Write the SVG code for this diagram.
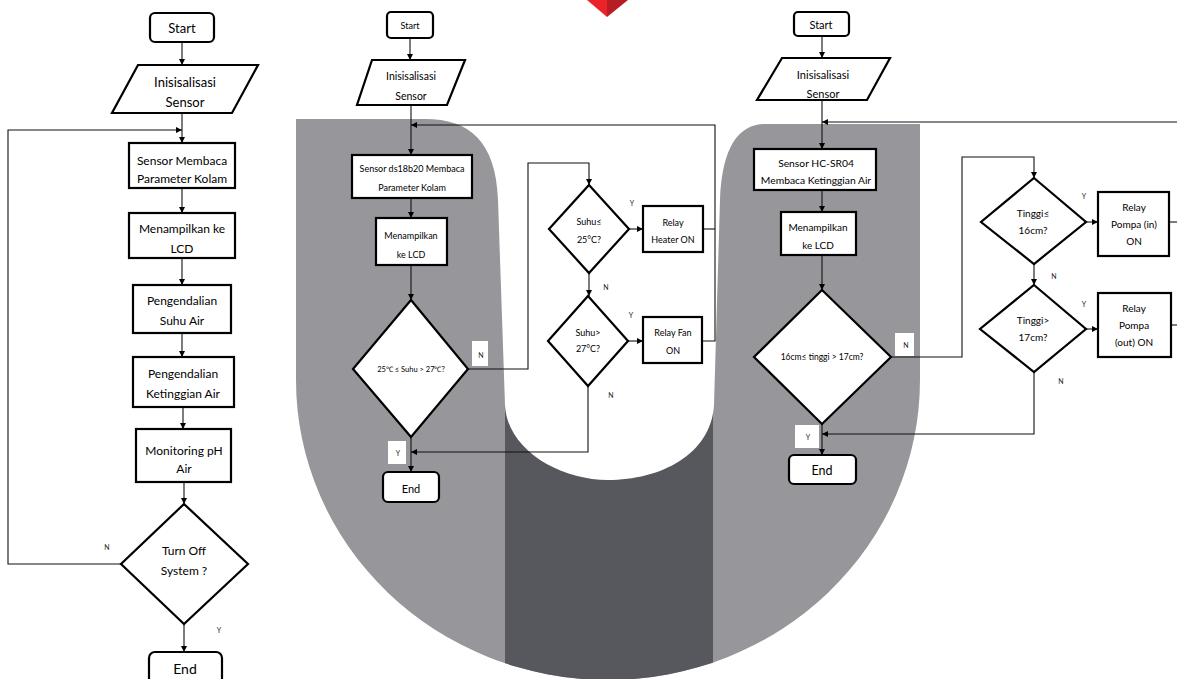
<svg xmlns="http://www.w3.org/2000/svg" width="1177" height="679" viewBox="0 0 1177 679">
<defs>
<style>
.bg{fill:#97979b}
.dk{fill:#57585d}
.wh{fill:#fff}
.box{fill:#fff;stroke:#000;stroke-width:2.2}
.conn{fill:none;stroke:#111;stroke-width:1.1}
.t{font-family:Lato,"Liberation Sans",sans-serif;text-anchor:middle;dominant-baseline:central;fill:#000}
.l{font-size:12px}
.p{font-size:13px}
.e{font-size:14px}
.m{font-size:9px}
.r{font-size:10.3px}
.s{font-size:7.5px}
.lab{font-family:Lato,"Liberation Sans",sans-serif;font-size:7px;fill:#222;text-anchor:middle;dominant-baseline:central}
</style>
<marker id="ah" viewBox="0 0 8 8" refX="8" refY="4" markerWidth="6" markerHeight="6" markerUnits="userSpaceOnUse" orient="auto"><path d="M0,0 L8,4 L0,8 z" fill="#000"/></marker>
<clipPath id="uclip"><path d="M296,119 H720 V124 H920 V380 A312,300 0 0 1 296,380 Z"/></clipPath>
</defs>

<g id="background">
<path class="bg" d="M296,119 H720 V124 H920 V380 A312,300 0 0 1 296,380 Z"/>
<rect class="dk" x="505" y="380" width="208" height="310" clip-path="url(#uclip)"/>
<path class="wh" d="M425,105 V119 C470,119 496,142 498,200 L505,405 C507,450 560,480 608,480 C660,480 711,455 714,405 L720,200 C722,145 740,124 765,124 V105 Z"/>
<polygon points="587,0 607,0 607,17" fill="#ec2229"/>
<polygon points="607,0 628,0 607,17" fill="#b71d24"/>
</g>

<g id="connectors">
<line class="conn" x1="182" y1="42" x2="182" y2="65" marker-end="url(#ah)"/>
<line class="conn" x1="182" y1="113" x2="182" y2="143" marker-end="url(#ah)"/>
<path class="conn" d="M121,564 H8 V130 H182" marker-end="url(#ah)"/>
<line class="conn" x1="182" y1="188" x2="182" y2="213" marker-end="url(#ah)"/>
<line class="conn" x1="182" y1="258" x2="182" y2="285" marker-end="url(#ah)"/>
<line class="conn" x1="182" y1="333" x2="182" y2="357" marker-end="url(#ah)"/>
<line class="conn" x1="183" y1="407" x2="183" y2="429" marker-end="url(#ah)"/>
<line class="conn" x1="184" y1="482" x2="184" y2="504" marker-end="url(#ah)"/>
<line class="conn" x1="184" y1="624" x2="184" y2="652" marker-end="url(#ah)"/>

<line class="conn" x1="410" y1="38" x2="410" y2="60" marker-end="url(#ah)"/>
<line class="conn" x1="411" y1="105" x2="411" y2="155" marker-end="url(#ah)"/>
<path class="conn" d="M702,341 H715 V125 H411" marker-end="url(#ah)"/>
<line class="conn" x1="703" y1="229" x2="715" y2="229"/>
<line class="conn" x1="411" y1="198" x2="411" y2="218" marker-end="url(#ah)"/>
<line class="conn" x1="411" y1="265" x2="411" y2="300" marker-end="url(#ah)"/>
<path class="conn" d="M468,369 H528 V163 H589 V185" marker-end="url(#ah)"/>
<line class="conn" x1="629" y1="229" x2="643" y2="229" marker-end="url(#ah)"/>
<line class="conn" x1="589" y1="273" x2="589" y2="296" marker-end="url(#ah)"/>
<line class="conn" x1="628" y1="341" x2="643" y2="341" marker-end="url(#ah)"/>
<path class="conn" d="M588,386 V452 H411" marker-end="url(#ah)"/>
<line class="conn" x1="411" y1="437" x2="411" y2="472" marker-end="url(#ah)"/>

<line class="conn" x1="822" y1="36" x2="822" y2="58" marker-end="url(#ah)"/>
<line class="conn" x1="822" y1="100" x2="822" y2="149" marker-end="url(#ah)"/>
<path class="conn" d="M1177,122 H822" marker-end="url(#ah)"/>
<line class="conn" x1="822" y1="190" x2="822" y2="212" marker-end="url(#ah)"/>
<line class="conn" x1="822" y1="255" x2="822" y2="290" marker-end="url(#ah)"/>
<path class="conn" d="M891,357 H962 V157 H1034 V178" marker-end="url(#ah)"/>
<line class="conn" x1="822" y1="424" x2="822" y2="455" marker-end="url(#ah)"/>
<line class="conn" x1="1086" y1="222" x2="1098" y2="222" marker-end="url(#ah)"/>
<line class="conn" x1="1034" y1="264" x2="1034" y2="285" marker-end="url(#ah)"/>
<line class="conn" x1="1086" y1="329" x2="1098" y2="329" marker-end="url(#ah)"/>
<line class="conn" x1="1169" y1="222" x2="1177" y2="222"/>
<line class="conn" x1="1171" y1="325" x2="1177" y2="325"/>
<path class="conn" d="M1034,372 V434 H822" marker-end="url(#ah)"/>
</g>

<g id="labels">
<text class="lab" x="107" y="547">N</text>
<text class="lab" x="219" y="630">Y</text>
<rect class="wh" x="472" y="341" width="16" height="25"/>
<text class="lab" x="481" y="355">N</text>
<rect class="wh" x="388" y="441" width="18" height="23"/>
<text class="lab" x="398" y="453">Y</text>
<text class="lab" x="632" y="203">Y</text>
<text class="lab" x="606" y="287">N</text>
<text class="lab" x="631" y="315">Y</text>
<text class="lab" x="611" y="395">N</text>
<rect class="wh" x="895" y="333" width="19" height="23"/>
<text class="lab" x="906" y="345">N</text>
<rect class="wh" x="795" y="425" width="24" height="23"/>
<text class="lab" x="808" y="437">Y</text>
<text class="lab" x="1084" y="196">Y</text>
<text class="lab" x="1054" y="276">N</text>
<text class="lab" x="1084" y="304">Y</text>
<text class="lab" x="1061" y="381">N</text>
</g>

<g id="left-start"><rect class="box" x="150" y="13" width="64" height="29" rx="5"/><text class="t p" x="182" y="28">Start</text></g>
<g id="left-init"><polygon class="box" points="138,65 258,65 232,113 112,113"/><text class="t p" x="185" y="82">Inisisalisasi</text><text class="t p" x="185" y="102">Sensor</text></g>
<g id="left-read"><rect class="box" x="129" y="143" width="106" height="45"/><text class="t l" x="182" y="160">Sensor Membaca</text><text class="t l" x="182" y="178">Parameter Kolam</text></g>
<g id="left-lcd"><rect class="box" x="129" y="213" width="106" height="45"/><text class="t l" x="182" y="228">Menampilkan ke</text><text class="t l" x="182" y="248">LCD</text></g>
<g id="left-suhu"><rect class="box" x="133" y="285" width="98" height="48"/><text class="t l" x="182" y="300">Pengendalian</text><text class="t l" x="182" y="320">Suhu Air</text></g>
<g id="left-tinggi"><rect class="box" x="133" y="357" width="101" height="50"/><text class="t l" x="183" y="373">Pengendalian</text><text class="t l" x="183" y="393">Ketinggian Air</text></g>
<g id="left-ph"><rect class="box" x="136" y="429" width="95" height="53"/><text class="t l" x="184" y="450">Monitoring pH</text><text class="t l" x="184" y="468">Air</text></g>
<g id="left-off"><polygon class="box" points="184,504 248,564 184,624 121,564"/><text class="t l" x="184" y="550">Turn Off</text><text class="t l" x="184" y="570">System ?</text></g>
<g id="left-end"><rect class="box" x="149" y="652" width="73" height="36" rx="6"/><text class="t e" x="185" y="668">End</text></g>

<g id="mid-start"><rect class="box" x="387" y="12" width="46" height="26" rx="4"/><text class="t m" x="410" y="25">Start</text></g>
<g id="mid-init"><polygon class="box" points="372,60 465,60 447,105 357,105"/><text class="t" style="font-size:10.5px" x="411" y="76">Inisisalisasi</text><text class="t" style="font-size:10.5px" x="411" y="96">Sensor</text></g>
<g id="mid-read"><rect class="box" x="352" y="155" width="120" height="43"/><text class="t m" x="412" y="168">Sensor ds18b20 Membaca</text><text class="t m" x="412" y="187">Parameter Kolam</text></g>
<g id="mid-lcd"><rect class="box" x="376" y="218" width="71" height="47"/><text class="t m" x="411" y="235">Menampilkan</text><text class="t m" x="411" y="254">ke LCD</text></g>
<g id="mid-dec"><polygon class="box" points="411,300 468,369 411,437 353,369"/><text class="t s" x="411" y="369">25℃ ≤ Suhu &gt; 27℃?</text></g>
<g id="mid-end"><rect class="box" x="383" y="472" width="56" height="30" rx="5"/><text class="t" style="font-size:11px" x="411" y="488">End</text></g>
<g id="mid-dec1"><polygon class="box" points="589,185 629,229 589,273 549,229"/><text class="t m" x="589" y="221">Suhu≤</text><text class="t m" x="589" y="239">25°C?</text></g>
<g id="mid-heater"><rect class="box" x="643" y="206" width="60" height="46"/><text class="t m" x="673" y="222">Relay</text><text class="t m" x="673" y="239">Heater ON</text></g>
<g id="mid-dec2"><polygon class="box" points="588,296 628,341 588,386 548,341"/><text class="t m" x="588" y="332">Suhu&gt;</text><text class="t m" x="588" y="348">27°C?</text></g>
<g id="mid-fan"><rect class="box" x="643" y="317" width="59" height="46"/><text class="t m" x="673" y="332">Relay Fan</text><text class="t m" x="673" y="350">ON</text></g>

<g id="right-start"><rect class="box" x="794" y="12" width="55" height="24" rx="4"/><text class="t" style="font-size:11px" x="821" y="24">Start</text></g>
<g id="right-init"><polygon class="box" points="782,58 890,58 867,100 757,100"/><text class="t" style="font-size:11px" x="823" y="74">Inisisalisasi</text><text class="t" style="font-size:11px" x="823" y="93">Sensor</text></g>
<g id="right-read"><rect class="box" x="754" y="149" width="122" height="41"/><text class="t r" x="816" y="163">Sensor HC-SR04</text><text class="t r" x="816" y="180">Membaca Ketinggian Air</text></g>
<g id="right-lcd"><rect class="box" x="781" y="212" width="75" height="43"/><text class="t" style="font-size:10px" x="818" y="227">Menampilkan</text><text class="t" style="font-size:10px" x="818" y="245">ke LCD</text></g>
<g id="right-dec"><polygon class="box" points="822,290 891,357 822,424 754,357"/><text class="t" style="font-size:8.5px" x="822" y="357">16cm≤ tinggi &gt; 17cm?</text></g>
<g id="right-end"><rect class="box" x="789" y="455" width="67" height="29" rx="5"/><text class="t" style="font-size:12.5px" x="822" y="470">End</text></g>
<g id="right-dec1"><polygon class="box" points="1034,178 1086,222 1034,264 981,222"/><text class="t" style="font-size:10px" x="1033" y="213">Tinggi≤</text><text class="t" style="font-size:10px" x="1033" y="230">16cm?</text></g>
<g id="right-pin"><rect class="box" x="1098" y="192" width="71" height="64"/><text class="t" style="font-size:10px" x="1134" y="207">Relay</text><text class="t" style="font-size:10px" x="1134" y="224">Pompa (in)</text><text class="t" style="font-size:10px" x="1134" y="241">ON</text></g>
<g id="right-dec2"><polygon class="box" points="1034,285 1086,329 1034,372 980,329"/><text class="t" style="font-size:10px" x="1033" y="320">Tinggi&gt;</text><text class="t" style="font-size:10px" x="1033" y="337">17cm?</text></g>
<g id="right-pout"><rect class="box" x="1098" y="293" width="73" height="64"/><text class="t" style="font-size:10px" x="1134" y="308">Relay</text><text class="t" style="font-size:10px" x="1134" y="325">Pompa</text><text class="t" style="font-size:10px" x="1134" y="342">(out) ON</text></g>
</svg>
